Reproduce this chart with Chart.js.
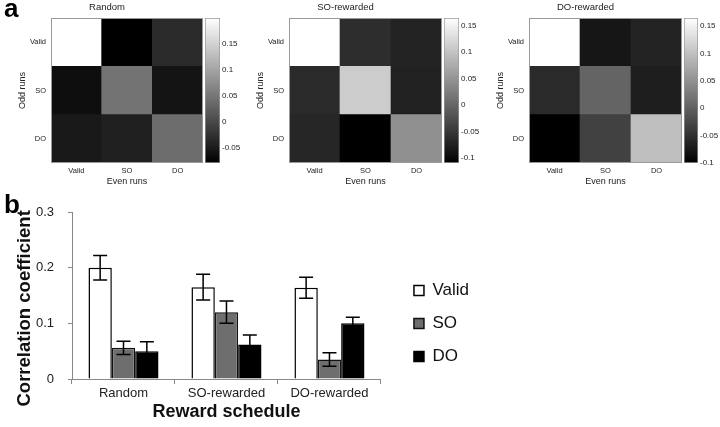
<!DOCTYPE html>
<html>
<head>
<meta charset="utf-8">
<script src="https://cdn.jsdelivr.net/npm/chart.js@4"></script>
<style>
  body { margin: 0; background: #fff; }
  #fig { position: relative; width: 720px; height: 427px; overflow: hidden; }
  canvas { position: absolute; }
  .panel { position: absolute; font: bold 26px/26px "Liberation Sans", Arial, sans-serif; color: #000; }
</style>
</head>
<body>
<div id="fig">
  <canvas id="hm0" width="192" height="190" style="left:11px;top:0"></canvas>
  <canvas id="cb0" width="36" height="190" style="left:205px;top:0"></canvas>
  <canvas id="hm1" width="193" height="190" style="left:249px;top:0"></canvas>
  <canvas id="cb1" width="36" height="190" style="left:444px;top:0"></canvas>
  <canvas id="hm2" width="193" height="190" style="left:489px;top:0"></canvas>
  <canvas id="cb2" width="36" height="190" style="left:684px;top:0"></canvas>
  <canvas id="bars" width="470" height="237" style="left:0;top:190px"></canvas>
  <div class="panel" style="left:4px;top:-5px">a</div>
  <div class="panel" style="left:4px;top:191px">b</div>
</div>
<script>
const rowLabels = ["Valid", "SO", "DO"];   // odd runs, top to bottom
const colLabels = ["Valid", "SO", "DO"];   // even runs
const panelTitles = ["Random", "SO-rewarded", "DO-rewarded"];

const randomCorr = [
  [0.200, -0.080, -0.034],
  [-0.065, 0.046, -0.058],
  [-0.053, -0.045, 0.040],
];
const soRewardedCorr = [
  [0.165, -0.061, -0.072],
  [-0.065, 0.110, -0.074],
  [-0.069, -0.110, 0.045],
];
const doRewardedCorr = [
  [0.165, -0.077, -0.064],
  [-0.056, 0.004, -0.069],
  [-0.100, -0.032, 0.098],
];
const ticksRandom = [-0.05, 0, 0.05, 0.1, 0.15];
const ticksRewarded = [-0.1, -0.05, 0, 0.05, 0.1, 0.15];

const schedules = ["Random", "SO-rewarded", "DO-rewarded"];
const validMean = [0.200, 0.165, 0.164];
const soMean = [0.056, 0.120, 0.035];
const doMean = [0.050, 0.062, 0.100];
const validErr = [0.022, 0.023, 0.019];
const soErr = [0.012, 0.020, 0.012];
const doErr = [0.017, 0.017, 0.011];
const yTicks = [0, 0.1, 0.2, 0.3];

Chart.defaults.font.family = '"Liberation Sans", Arial, sans-serif';
Chart.defaults.animation = false;

const frame = {
  id: "frame",
  afterDatasetsDraw(chart) {
    const a = chart.chartArea;
    const ctx = chart.ctx;
    ctx.save();
    ctx.strokeStyle = "#999";
    ctx.lineWidth = 1;
    ctx.strokeRect(a.left + 0.5, a.top + 0.5, a.right - a.left - 1, a.bottom - a.top - 1);
    ctx.restore();
  },
};

function heatmap(id, title, matrix) {
  const flat = matrix.flat();
  const lo = Math.min(...flat);
  const hi = Math.max(...flat);
  const shade = (v) => {
    const g = Math.round((255 * (v - lo)) / (hi - lo));
    return `rgb(${g},${g},${g})`;
  };
  // first dataset is the bottom row
  const datasets = rowLabels
    .map((r, i) => ({
      label: r,
      data: colLabels.map(() => 1),
      backgroundColor: matrix[i].map(shade),
      borderWidth: 0,
      barPercentage: 1,
      categoryPercentage: 1,
    }))
    .reverse();

  new Chart(document.getElementById(id), {
    type: "bar",
    data: { labels: colLabels, datasets: datasets },
    options: {
      responsive: false,
      layout: { padding: 0 },
      plugins: {
        legend: { display: false },
        tooltip: { enabled: false },
        title: {
          display: true,
          text: title,
          color: "#222",
          font: { size: 9.5, weight: "normal" },
          padding: { top: 2, bottom: 4.6 },
        },
      },
      scales: {
        x: {
          stacked: true,
          grid: { display: false, drawTicks: false },
          border: { display: false },
          ticks: { color: "#222", font: { size: 7.5 }, padding: 3 },
          title: {
            display: true,
            text: "Even runs",
            color: "#222",
            font: { size: 9 },
            padding: { top: 0, bottom: 2.6 },
          },
          afterFit: (s) => { s.height = 27; },
        },
        y: {
          stacked: true,
          min: 0,
          max: 3,
          grid: { display: false, drawTicks: false },
          border: { display: false },
          afterBuildTicks: (s) => { s.ticks = [0.5, 1.5, 2.5].map((v) => ({ value: v })); },
          ticks: {
            color: "#222",
            font: { size: 7.5 },
            padding: 5,
            callback: (v) => rowLabels[Math.round(2.5 - v)],
          },
          title: {
            display: true,
            text: "Odd runs",
            color: "#222",
            font: { size: 9 },
            padding: { top: 6.6, bottom: 0 },
          },
          afterFit: (s) => { s.width = 40; },
        },
      },
    },
    plugins: [frame],
  });
}

function colorbar(id, matrix, ticks, barWidth) {
  const flat = matrix.flat();
  const lo = Math.min(...flat);
  const hi = Math.max(...flat);
  const cv = document.getElementById(id);

  new Chart(cv, {
    type: "bar",
    data: {
      labels: [""],
      datasets: [
        {
          data: [[lo, hi]],
          backgroundColor: (c) => {
            const a = c.chart.chartArea;
            if (!a) return "#888";
            const g = c.chart.ctx.createLinearGradient(0, a.bottom, 0, a.top);
            g.addColorStop(0, "#000");
            g.addColorStop(1, "#fff");
            return g;
          },
          borderColor: "#999",
          borderWidth: 1,
          borderSkipped: false,
          barPercentage: 1,
          categoryPercentage: 1,
        },
      ],
    },
    options: {
      responsive: false,
      layout: { padding: { top: 18, bottom: 27 } },
      plugins: { legend: { display: false }, tooltip: { enabled: false } },
      scales: {
        x: { display: false },
        y: {
          position: "right",
          min: lo,
          max: hi,
          grid: { display: false, drawTicks: false },
          border: { display: false },
          afterBuildTicks: (s) => { s.ticks = ticks.map((v) => ({ value: v })); },
          ticks: { color: "#222", font: { size: 8 }, padding: 2, callback: (v) => String(v) },
          afterFit: (s) => { s.width = cv.width - barWidth; },
        },
      },
    },
  });
}

heatmap("hm0", panelTitles[0], randomCorr);
heatmap("hm1", panelTitles[1], soRewardedCorr);
heatmap("hm2", panelTitles[2], doRewardedCorr);
colorbar("cb0", randomCorr, ticksRandom, 15);
colorbar("cb1", soRewardedCorr, ticksRewarded, 15);
colorbar("cb2", doRewardedCorr, ticksRewarded, 14);

// error bars drawn from each dataset's err array
const errorBars = {
  id: "errorBars",
  afterDatasetsDraw(chart) {
    const ctx = chart.ctx;
    const y = chart.scales.y;
    ctx.save();
    ctx.strokeStyle = "#000";
    ctx.lineWidth = 1.5;
    chart.data.datasets.forEach((ds, i) => {
      chart.getDatasetMeta(i).data.forEach((bar, j) => {
        const top = y.getPixelForValue(ds.data[j] + ds.err[j]);
        const bot = y.getPixelForValue(ds.data[j] - ds.err[j]);
        ctx.beginPath();
        ctx.moveTo(bar.x, top);
        ctx.lineTo(bar.x, bot);
        ctx.moveTo(bar.x - 7, top);
        ctx.lineTo(bar.x + 7, top);
        ctx.moveTo(bar.x - 7, bot);
        ctx.lineTo(bar.x + 7, bot);
        ctx.stroke();
      });
    });
    ctx.restore();
  },
};

const nudgeLegend = {
  id: "nudgeLegend",
  afterLayout(chart) {
    const l = chart.legend;
    l.left += 17;
    l.right += 17;
    l.top += 4;
    l.bottom += 4;
  },
};

new Chart(document.getElementById("bars"), {
  type: "bar",
  data: {
    labels: schedules,
    datasets: [
      { label: "Valid", data: validMean, err: validErr, backgroundColor: "#fff", borderColor: "#000" },
      { label: "SO", data: soMean, err: soErr, backgroundColor: "#6e6e6e", borderColor: "#111" },
      { label: "DO", data: doMean, err: doErr, backgroundColor: "#000", borderColor: "#000" },
    ].map((d) => ({ ...d, borderWidth: 1.5, barPercentage: 1, categoryPercentage: 0.68 })),
  },
  options: {
    responsive: false,
    layout: { padding: { left: 10, top: 22, right: 8, bottom: 0 } },
    plugins: {
      tooltip: { enabled: false },
      legend: {
        position: "right",
        align: "center",
        labels: {
          boxWidth: 10,
          boxHeight: 10,
          padding: 16,
          color: "#111",
          font: { size: 17 },
        },
      },
    },
    scales: {
      x: {
        grid: { display: true, drawOnChartArea: false, tickLength: 5, color: "#888" },
        border: { color: "#888" },
        ticks: { color: "#222", font: { size: 13 }, padding: 2 },
        title: {
          display: true,
          text: "Reward schedule",
          color: "#111",
          font: { size: 18, weight: "bold" },
          padding: { top: 0, bottom: 4 },
        },
        afterFit: (s) => { s.height = 48; },
      },
      y: {
        min: 0,
        max: 0.3,
        grid: { drawOnChartArea: false, tickLength: 4, color: "#888" },
        border: { color: "#888" },
        afterBuildTicks: (s) => { s.ticks = yTicks.map((v) => ({ value: v })); },
        ticks: {
          color: "#222",
          font: { size: 13 },
          padding: 14,
          callback: (v) => (v === 0 ? "0" : v.toFixed(1)),
        },
        title: {
          display: true,
          // trailing spaces push the centred title down, as in the original
          text: "Correlation coefficient     ",
          color: "#111",
          font: { size: 18.5, weight: "bold" },
          padding: { top: 3.5, bottom: 0 },
        },
        afterFit: (s) => { s.width = 62; },
      },
    },
  },
  plugins: [errorBars, nudgeLegend],
});
</script>
</body>
</html>
